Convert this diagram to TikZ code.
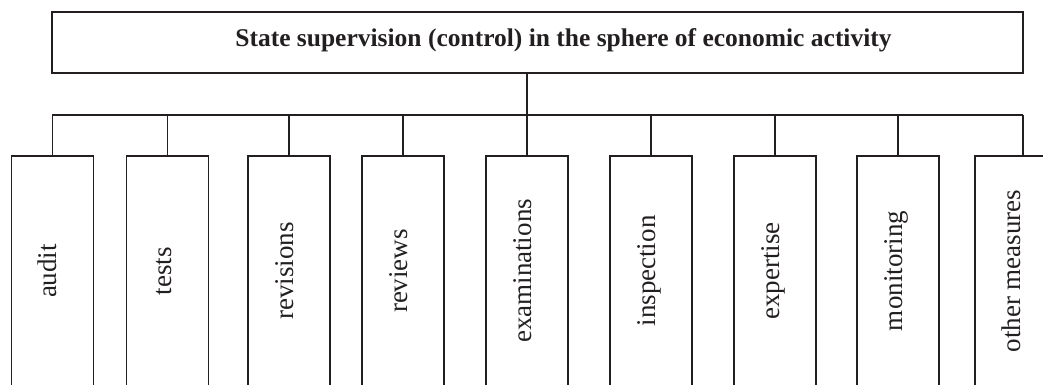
\documentclass[tikz,border=0pt]{standalone}
\usepackage{fontspec}
\setmainfont{Liberation Serif}
\definecolor{ink}{HTML}{231F20}
\begin{document}
\begin{tikzpicture}[x=1pt,y=-1pt,
  line/.style={draw=ink,line width=1.3pt},
  topbox/.style={line,rectangle,minimum width=971pt,minimum height=61pt,inner sep=0pt},
  leaf/.style={line,rectangle,minimum width=82pt,minimum height=234pt,inner sep=0pt},
  leaftext/.style={text=ink,rotate=90,anchor=base,font=\fontsize{27}{30}\selectfont,inner sep=0pt},
  titletext/.style={text=ink,anchor=base,font=\fontsize{25.5}{28}\selectfont\bfseries,inner sep=0pt}]
\useasboundingbox (0,0) rectangle (1043,385);
\clip (0,0) rectangle (1043,385);
\node[topbox] (top) at (537.5,42.5) {};
\node[titletext] (title) at (563.5,47) {State supervision (control) in the sphere of economic activity};
\coordinate (busL) at (52,115);
\coordinate (busR) at (1023,115);
\foreach \n/\x/\t in {1/52.5/audit,2/167.5/tests,3/289/revisions,4/403/reviews,5/527/examinations,6/651/inspection,7/775/expertise,8/898/monitoring,9/1016/other measures}{
  \node[leaf] (b\n) at (\x,273) {};
  \node[leaftext] (t\n) at (\x+4,271) {\t};
}
\draw[line] (busL) -- (busR);
\draw[line] (top.south -| b5.north) -- (b5.north |- busL);
\foreach \n in {1,...,8}{
  \draw[line] (b\n.north |- busL) -- (b\n.north);
}
\draw[line] (busR) -- (busR |- b9.north);
\end{tikzpicture}
\end{document}
